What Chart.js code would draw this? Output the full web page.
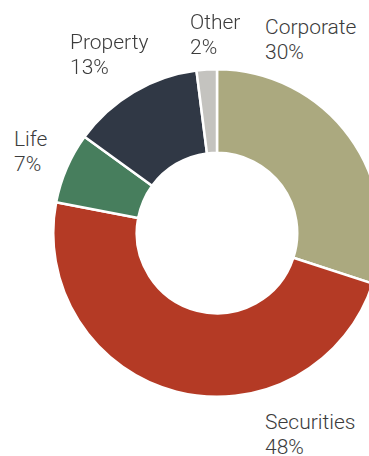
<!DOCTYPE html>
<html>
<head>
<meta charset="utf-8">
<script src="https://cdn.jsdelivr.net/npm/chart.js@4.4.0/dist/chart.umd.min.js"></script>
<style>
  html, body { margin: 0; padding: 0; width: 369px; height: 456px; overflow: hidden; background: #fff; }
  #wrap { position: absolute; left: 52px; top: 68px; width: 330px; height: 330px; }
  .lbl { position: absolute; font-family: Roboto, "Liberation Sans", sans-serif; font-weight: 300;
         font-size: 21px; line-height: 25px; color: #3c3c3c; white-space: nowrap; }
</style>
</head>
<body>
<div id="wrap"><canvas id="pie" width="330" height="330"></canvas></div>
<div id="labels"></div>
<script>
// portfolio split, clockwise from 12 o'clock
var categories = ['Corporate', 'Securities', 'Life', 'Property', 'Other'];
var shares = [30, 48, 7, 13, 2];
var colors = ['#aba97f', '#b43a25', '#477e5d', '#303845', '#c4c3bf'];

// where each label sits (left, top)
var labelPos = {
    'Corporate': [265, 15],
    'Securities': [265, 410],
    'Life': [14, 127],
    'Property': [70, 30],
    'Other': [190, 10]
};

var labelBox = document.getElementById('labels');
for (var i = 0; i < categories.length; i++) {
    var d = document.createElement('div');
    d.className = 'lbl';
    d.style.left = labelPos[categories[i]][0] + 'px';
    d.style.top = labelPos[categories[i]][1] + 'px';
    d.innerHTML = categories[i] + '<br>' + shares[i] + '%';
    labelBox.appendChild(d);
}

var chart = new Chart(document.getElementById('pie'), {
    type: 'doughnut',
    data: {
        labels: categories,
        datasets: [{
            data: shares,
            backgroundColor: colors,
            borderColor: '#ffffff',
            borderWidth: 2.5
        }]
    },
    options: {
        responsive: false,
        animation: false,
        cutout: '49%',
        layout: { padding: 0 },
        plugins: {
            legend: { display: false },
            tooltip: { enabled: false }
        }
    }
});
</script>
</body>
</html>
